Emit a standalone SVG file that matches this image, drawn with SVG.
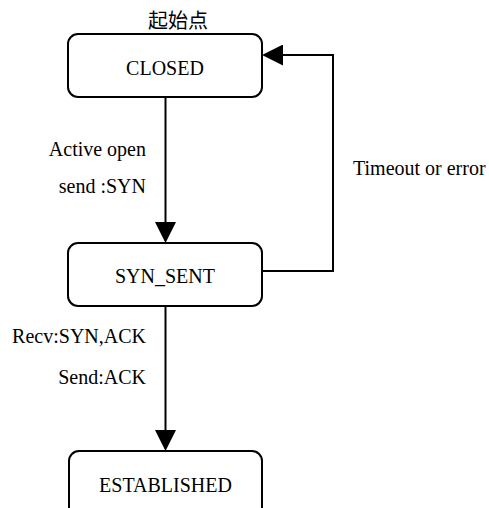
<svg xmlns="http://www.w3.org/2000/svg" width="489" height="508" viewBox="0 0 489 508">
<defs>
<style>
.node{fill:#fff;stroke:#000;stroke-width:2}
.t{font-family:'Liberation Serif','Times New Roman',Times,serif;font-size:20px;fill:#000}
.cjk{font-family:'Liberation Serif','Noto Sans CJK SC',serif;font-size:20px;fill:#000}
.c{text-anchor:middle}
.r{text-anchor:end}
.edge{fill:none;stroke:#000;stroke-width:2}
</style>
<marker id="ah" viewBox="0 0 21 21" refX="0" refY="10.5" markerWidth="21" markerHeight="21" markerUnits="userSpaceOnUse" orient="auto">
<path d="M0,0 L21,10.5 L0,21 z" fill="#000"/>
</marker>
</defs>
<rect width="489" height="508" fill="#fff"/>
<g id="connectors">
<path class="edge" d="M165.5 97 V222" marker-end="url(#ah)"/>
<path class="edge" d="M165.5 306 V430" marker-end="url(#ah)"/>
<path class="edge" d="M262 271 H333 V55 H283" marker-end="url(#ah)"/>
<text class="t r" x="146" y="156">Active open</text>
<text class="t r" x="146" y="193">send :SYN</text>
<text class="t r" x="146" y="343">Recv:SYN,ACK</text>
<text class="t r" x="146" y="384">Send:ACK</text>
<text class="t" x="353" y="175">Timeout or error</text>
</g>
<g id="closed">
<text class="cjk" x="148" y="28">起始点</text>
<rect class="node" x="68" y="34" width="194" height="63" rx="10"/>
<text class="t c" x="165" y="75">CLOSED</text>
</g>
<g id="syn_sent">
<rect class="node" x="68" y="243" width="194" height="63" rx="10"/>
<text class="t c" x="165" y="283">SYN_SENT</text>
</g>
<g id="established">
<rect class="node" x="69" y="451" width="193" height="66" rx="10"/>
<text class="t c" x="165.5" y="492">ESTABLISHED</text>
</g>
</svg>
